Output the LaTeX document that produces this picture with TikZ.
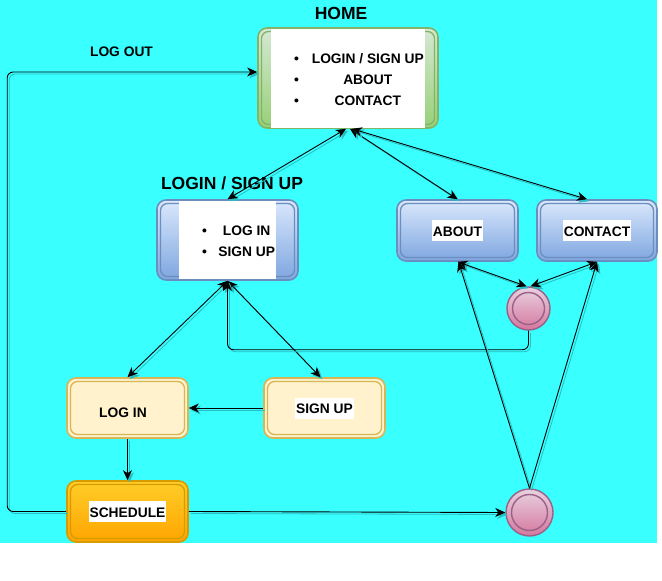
\documentclass[tikz,border=0pt]{standalone}
\usepackage{fontspec}
\setmainfont{Liberation Sans}
\usetikzlibrary{arrows.meta}

\definecolor{pagecyan}{RGB}{58,255,255}
\definecolor{linkshade}{RGB}{40,190,195}
\definecolor{greentop}{HTML}{D5E8D4}
\definecolor{greenbot}{HTML}{97D077}
\definecolor{greenrim}{HTML}{82B366}
\definecolor{bluetop}{HTML}{DAE8FC}
\definecolor{bluebot}{HTML}{7EA6E0}
\definecolor{bluerim}{HTML}{6C8EBF}
\definecolor{sandfill}{HTML}{FFF2CC}
\definecolor{sandrim}{HTML}{D6B656}
\definecolor{ambertop}{HTML}{FFCD28}
\definecolor{amberbot}{HTML}{FFA500}
\definecolor{amberrim}{HTML}{D79B00}
\definecolor{pinktop}{HTML}{E8D2E0}
\definecolor{pinkbot}{HTML}{D5769F}
\definecolor{pinkrim}{HTML}{996185}

\renewcommand{\arraystretch}{1.27}
\newcommand{\whitepanel}[3]{{\setlength{\fboxsep}{0pt}\colorbox{white}{\parbox[c][#2][c]{#1}{#3}}}}
\newcommand{\hilite}[1]{{\setlength{\fboxsep}{1pt}\colorbox{white}{\rule[-4pt]{0pt}{19pt}#1}}}

\tikzset{
  rim/.style={path picture={\draw[#1, line width=1.3pt, rounded corners=7pt]
      ([shift={(3.5pt,-3.5pt)}]path picture bounding box.north west) rectangle
      ([shift={(-3.5pt,3.5pt)}]path picture bounding box.south east);}},
  endstate/.style={circle, minimum size=#1, inner sep=0pt, draw=pinkrim, line width=1.4pt,
      top color=pinktop, bottom color=pinkbot,
      path picture={\draw[pinkrim, line width=1.4pt] (path picture bounding box.center) circle [radius=#1/2-5.5pt];}}
}
\tikzstyle{roundbox} = [rectangle, rounded corners=9pt, inner sep=0pt, line width=1.6pt]
\tikzstyle{greenbox} = [roundbox, draw=greenrim, top color=greentop, bottom color=greenbot, rim=greenrim]
\tikzstyle{bluebox} = [roundbox, draw=bluerim, top color=bluetop, bottom color=bluebot, rim=bluerim]
\tikzstyle{sandbox} = [roundbox, draw=sandrim, fill=sandfill, rim=sandrim]
\tikzstyle{amberbox} = [roundbox, draw=amberrim, top color=ambertop, bottom color=amberbot, rim=amberrim]
\tikzstyle{bigcaption} = [font=\bfseries\fontsize{17.5}{20}\selectfont]
\tikzstyle{arrow} = [line width=0.9pt, ->, >={Stealth[length=10pt,width=9pt,inset=3pt]},
  preaction={draw=linkshade, line width=0.8pt, transform canvas={shift={(2pt,-2pt)}}}]
\tikzstyle{dblarrow} = [arrow, <->]

\begin{document}
\begin{tikzpicture}[x=1pt, y=-1pt, font=\bfseries\fontsize{13.8}{16.6}\selectfont]
  \useasboundingbox (0,0) rectangle (662,581);
  \fill[pagecyan] (0,0) rectangle (657,543);

  \node (home) [greenbox, minimum width=180, minimum height=100] at (348,78)
    {\whitepanel{154pt}{99pt}{\hspace*{23pt}\raisebox{-2pt}[\height][\depth]{\begin{tabular}{@{}c@{\hspace{13pt}}c@{}}
      \textbullet & LOGIN / SIGN UP\\ \textbullet & ABOUT\\ \textbullet & CONTACT\end{tabular}}}};
  \node (hometitle) [bigcaption] at (341,13) {HOME};

  \node (loginbox) [bluebox, minimum width=141, minimum height=80] at (227.5,240)
    {\whitepanel{97pt}{78pt}{\hspace*{23pt}\raisebox{-2pt}[\height][\depth]{\begin{tabular}{@{}c@{\hspace{11.5pt}}c@{}}
      \textbullet & LOG IN\\ \textbullet & SIGN UP\end{tabular}}}};
  \node (logintitle) [bigcaption] at (232,183) {LOGIN / SIGN UP};

  \node (about) [bluebox, minimum width=121, minimum height=61] at (457.5,230.5) {\hilite{ABOUT}};
  \node (contact) [bluebox, minimum width=120, minimum height=61] at (597,230.5) {\hilite{CONTACT}};
  \node (endA) [endstate=43pt] at (528.5,308.5) {};

  \node (login) [sandbox, minimum width=121, minimum height=60] at (127.5,408)
    {\hspace*{-9pt}\raisebox{-4pt}[10pt][0pt]{LOG IN}};
  \node (signup) [sandbox, minimum width=121, minimum height=60] at (324.5,408) {\hilite{SIGN UP}};
  \node (schedule) [amberbox, minimum width=121, minimum height=61] at (127.5,511.5) {\hilite{SCHEDULE}};
  \node (endB) [endstate=47pt] at (529.5,512.5) {};

  \node (logoutlabel) at (121.5,52) {LOG OUT};

  % links out of home
  \draw [dblarrow] ([xshift=-2pt]home.south) -- (loginbox.north);
  \draw [dblarrow] ([xshift=2pt]home.south) -- (about.north);
  \draw [dblarrow] ([xshift=4pt]home.south) -- ([xshift=-10pt]contact.north);

  % login / sign up
  \draw [dblarrow] (loginbox.south) -- (login.north);
  \draw [dblarrow] (loginbox.south) -- ([xshift=-4pt]signup.north);
  \draw [arrow] (signup.west) -- (login.east);
  \draw [arrow] (login.south) -- (schedule.north);
  \draw [arrow] (schedule.east) -- (endB.west);
  \draw [arrow, rounded corners=6pt] (schedule.west) -- ++(-59,0) |- ([yshift=6pt]home.west);

  % end states
  \draw [dblarrow] (about.south) -- ([xshift=-2pt]endA.north);
  \draw [dblarrow] (contact.south) -- ([xshift=2pt]endA.north);
  \draw [arrow, rounded corners=6pt] (endA.south) -- ++(0,19) -| (loginbox.south);
  \draw [arrow] (endB.north) -- ([xshift=1pt]about.south);
  \draw [arrow] (endB.north) -- (contact.south);
\end{tikzpicture}
\end{document}
